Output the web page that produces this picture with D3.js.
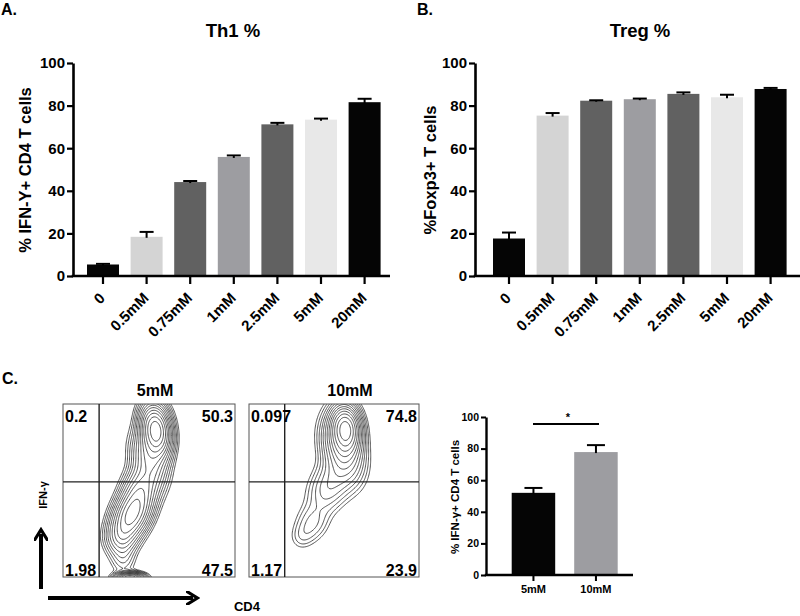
<!DOCTYPE html>
<html>
<head>
<meta charset="utf-8">
<script src="https://cdn.jsdelivr.net/npm/d3@7"></script>
<style>
  html, body { margin: 0; padding: 0; background: #fff; }
  svg { display: block; }
  text { font-family: "Liberation Sans", Arial, sans-serif; font-weight: bold; fill: #000; }
</style>
</head>
<body>
<svg id="chart" width="800" height="616"></svg>
<script>
// ---------------- DATA ----------------
const categories = ["0", "0.5mM", "0.75mM", "1mM", "2.5mM", "5mM", "20mM"];
const th1Values  = [5.4, 18.4, 44.1, 55.9, 71.2, 73.4, 81.6];
const th1Errors  = [0.3, 2.3, 0.5, 0.7, 0.7, 0.5, 1.6];
const tregValues = [17.6, 75.3, 82.3, 83.0, 85.5, 83.9, 87.8];
const tregErrors = [2.8, 1.2, 0.2, 0.3, 0.7, 1.2, 0.5];
const barColors  = ["#050505", "#d4d4d4", "#616161", "#9d9da1", "#616161", "#e8e8e8", "#050505"];
const yTicks     = [0, 20, 40, 60, 80, 100];

const flowConditions = ["5mM", "10mM"];
const flowQuadrants  = [["0.2", "50.3", "1.98", "47.5"], ["0.097", "74.8", "1.17", "23.9"]];
const gateX = [0.21, 0.21];
const gateY = [0.55, 0.55];
// density components of each contour plot: [cx, cy, sx, sy, angle, weight] (unit box)
const flowBlobs5mM = [
  [0.54, 0.85, 0.050, 0.090, 0.15, 1.00],
  [0.50, 0.68, 0.060, 0.100, 0.25, 0.30],
  [0.40, 0.36, 0.060, 0.100, -0.45, 0.62],
  [0.45, 0.52, 0.060, 0.080, -0.30, 0.25],
  [0.34, 0.22, 0.055, 0.060, 0.00, 0.15],
  [0.35, 0.10, 0.045, 0.060, 0.00, 0.08],
  [0.39, -0.005, 0.048, 0.018, 0.00, 0.90]
];
const flowBlobs10mM = [
  [0.57, 0.86, 0.050, 0.080, 0.10, 1.00],
  [0.55, 0.74, 0.070, 0.120, 0.25, 0.42],
  [0.47, 0.52, 0.070, 0.100, -0.45, 0.18],
  [0.37, 0.31, 0.060, 0.070, -0.45, 0.11],
  [0.31, 0.23, 0.045, 0.050, -0.45, 0.05]
];
const flowThresholds = [0.03, 0.045, 0.065, 0.09, 0.12, 0.16, 0.21, 0.27, 0.34, 0.43, 0.54, 0.68, 0.84];

const summaryCategories = ["5mM", "10mM"];
const summaryValues = [52.0, 77.8];
const summaryErrors = [3.1, 4.4];
const summaryColors = ["#050505", "#9d9da1"];

// ---------------- DRAW ----------------
const svg = d3.select("#chart");

function barPanel(opts) {
  const g = svg.append("g");
  const y = d3.scaleLinear().domain([0, 100]).range([opts.yBottom, opts.yTop]);
  const x = d3.scaleBand().domain(opts.cats).range([opts.bandStart, opts.bandEnd])
    .paddingInner(opts.pad).paddingOuter(opts.pad / 2);

  g.selectAll("rect.bar").data(opts.values).join("rect")
    .attr("class", "bar")
    .attr("x", (d, i) => x(opts.cats[i]))
    .attr("width", x.bandwidth())
    .attr("y", d => y(d))
    .attr("height", d => y(0) - y(d))
    .attr("fill", (d, i) => opts.colors[i]);

  const eb = g.selectAll("g.err").data(opts.values).join("g").attr("class", "err");
  eb.append("line")
    .attr("x1", (d, i) => x(opts.cats[i]) + x.bandwidth() / 2)
    .attr("x2", (d, i) => x(opts.cats[i]) + x.bandwidth() / 2)
    .attr("y1", d => y(d) + 1)
    .attr("y2", (d, i) => y(d + opts.errors[i]))
    .attr("stroke", "#000").attr("stroke-width", opts.errW);
  eb.append("line")
    .attr("x1", (d, i) => x(opts.cats[i]) + x.bandwidth() / 2 - opts.capW / 2)
    .attr("x2", (d, i) => x(opts.cats[i]) + x.bandwidth() / 2 + opts.capW / 2)
    .attr("y1", (d, i) => y(d + opts.errors[i]))
    .attr("y2", (d, i) => y(d + opts.errors[i]))
    .attr("stroke", "#000").attr("stroke-width", opts.errW);

  // y axis
  const ya = g.append("g").attr("transform", `translate(${opts.axisX},0)`)
    .call(d3.axisLeft(y).tickValues(yTicks).tickSize(opts.tickLen).tickPadding(2).tickSizeOuter(0));
  ya.select(".domain").attr("stroke-width", opts.axisW).attr("stroke", "#000");
  ya.selectAll(".tick line").attr("stroke-width", opts.axisW * 0.85).attr("stroke", "#000");
  ya.selectAll(".tick text").style("font-size", opts.tickFont + "px");
  ya.attr("font-family", null).attr("font-size", null);

  // x axis
  const xa = g.append("g").attr("transform", `translate(0,${opts.yBottom})`)
    .call(d3.axisBottom(x).tickSize(opts.xTickLen).tickSizeOuter(0));
  xa.select(".domain").remove();
  xa.attr("font-family", null).attr("font-size", null);
  xa.selectAll(".tick line").attr("stroke-width", opts.axisW * 0.85).attr("stroke", "#000");
  const xt = xa.selectAll(".tick text").style("font-size", opts.xFont + "px");
  if (opts.rotate) {
    xt.attr("text-anchor", "end").attr("x", 0).attr("y", 0).attr("dy", 0)
      .attr("transform", `translate(3,${opts.labelOffset}) rotate(-45)`);
  } else {
    xt.attr("y", opts.labelOffset).attr("dy", 0);
  }
  g.append("line").attr("x1", opts.axisX - opts.axisW / 2).attr("x2", opts.axisEnd)
    .attr("y1", opts.yBottom).attr("y2", opts.yBottom)
    .attr("stroke", "#000").attr("stroke-width", opts.axisW);

  // y label
  g.append("text")
    .attr("transform", `translate(${opts.labelX},${opts.labelY}) rotate(-90)`)
    .attr("text-anchor", "middle").attr("dominant-baseline", "central")
    .style("font-size", opts.labelFont + "px")
    .text(opts.yLabel);
  if (opts.title) {
    g.append("text").attr("x", opts.titleX).attr("y", opts.titleY)
      .attr("text-anchor", "middle").style("font-size", "18.5px").text(opts.title);
  }
  return { x, y };
}

const common = { cats: categories, colors: barColors, yTop: 63, yBottom: 276, pad: 0.266,
  errW: 2, capW: 14, tickLen: 6, xTickLen: 8, axisW: 2.6, tickFont: 15, xFont: 15,
  rotate: true, labelOffset: 23, labelFont: 16.5 };

barPanel(Object.assign({}, common, {
  values: th1Values, errors: th1Errors, bandStart: 81.2, bandEnd: 386.4,
  axisX: 73, axisEnd: 390, labelX: 25, labelY: 170,
  yLabel: "% IFN-Y+ CD4 T cells", title: "Th1 %", titleX: 233, titleY: 37 }));

barPanel(Object.assign({}, common, {
  values: tregValues, errors: tregErrors, bandStart: 487.2, bandEnd: 792.4,
  axisX: 475, axisEnd: 800, labelX: 430, labelY: 170,
  yLabel: "%Foxp3+ T cells", title: "Treg %", titleX: 640, titleY: 37 }));

// panel letters
svg.append("text").attr("x", 1).attr("y", 15).style("font-size", "16px").text("A.");
svg.append("text").attr("x", 417).attr("y", 15).style("font-size", "16px").text("B.");
svg.append("text").attr("x", 2).attr("y", 384).style("font-size", "16px").text("C.");

// ---------------- Flow contour plots ----------------
const flowBoxes = [[63, 235], [249, 419]];
const flowTop = 404, flowBottom = 577;
const blobSets = [flowBlobs5mM, flowBlobs10mM];

function density(blobs, x, y) {
  let s = 0;
  for (const [cx, cy, sx, sy, a, w] of blobs) {
    const dx = x - cx, dy = y - cy;
    const u = dx * Math.cos(a) + dy * Math.sin(a);
    const v = -dx * Math.sin(a) + dy * Math.cos(a);
    s += w * Math.exp(-(u * u / (2 * sx * sx) + v * v / (2 * sy * sy)));
  }
  return s;
}

const defs = svg.append("defs");
flowConditions.forEach((cond, k) => {
  const [L, R] = flowBoxes[k];
  const fx = d3.scaleLinear().domain([0, 1]).range([L, R]);
  const fy = d3.scaleLinear().domain([0, 1]).range([flowBottom, flowTop]);
  const g = svg.append("g");

  defs.append("clipPath").attr("id", "clip" + k)
    .append("rect").attr("x", L).attr("y", flowTop).attr("width", R - L).attr("height", flowBottom - flowTop);

  // density grid
  const n = 180, m = 200;
  const gx0 = -0.1, gx1 = 1.1, gy0 = -0.12, gy1 = 1.2;
  const vals = new Array(n * m);
  let mx = 0;
  for (let j = 0; j < m; j++) {
    const yy = gy1 - (j + 0.5) / m * (gy1 - gy0);
    for (let i = 0; i < n; i++) {
      const xx = gx0 + (i + 0.5) / n * (gx1 - gx0);
      const v = density(blobSets[k], xx, yy);
      vals[i + j * n] = v;
      if (v > mx) mx = v;
    }
  }
  const contours = d3.contours().size([n, m]).thresholds(flowThresholds.map(t => t * mx))(vals);
  const proj = d3.geoTransform({
    point: function (px, py) {
      this.stream.point(fx(gx0 + px / n * (gx1 - gx0)), fy(gy1 - py / m * (gy1 - gy0)));
    }
  });
  g.append("g").attr("clip-path", `url(#clip${k})`)
    .selectAll("path").data(contours).join("path")
    .attr("d", d3.geoPath(proj))
    .attr("fill", "none").attr("stroke", "#2a2a2a").attr("stroke-width", 0.8);

  // box
  g.append("rect").attr("x", L).attr("y", flowTop).attr("width", R - L).attr("height", flowBottom - flowTop)
    .attr("fill", "none").attr("stroke", "#555").attr("stroke-width", 1);
  // quadrant gates
  g.append("line").attr("x1", fx(gateX[k])).attr("x2", fx(gateX[k])).attr("y1", flowTop).attr("y2", flowBottom)
    .attr("stroke", "#222").attr("stroke-width", 1.4);
  g.append("line").attr("x1", L).attr("x2", R).attr("y1", fy(gateY[k])).attr("y2", fy(gateY[k]))
    .attr("stroke", "#222").attr("stroke-width", 1.4);

  // quadrant labels
  const q = flowQuadrants[k];
  const lab = (t, x, y, anchor) => g.append("text").attr("x", x).attr("y", y)
    .attr("text-anchor", anchor).style("font-size", "16px").text(t);
  lab(q[0], L + 2, 422, "start");
  lab(q[1], R - 2, 422, "end");
  lab(q[2], L + 2, 576, "start");
  lab(q[3], R - 2, 576, "end");

  g.append("text").attr("x", (L + R) / 2 + (k === 0 ? 6 : 16)).attr("y", 396)
    .attr("text-anchor", "middle").style("font-size", "16px").text(cond);
});

// axis arrows
svg.append("defs").append("marker").attr("id", "arrow").attr("viewBox", "0 0 10 10")
  .attr("refX", 5).attr("refY", 5).attr("markerWidth", 3.6).attr("markerHeight", 3.6)
  .attr("orient", "auto")
  .append("path").attr("d", "M0,0 L8,5 L0,10").attr("fill", "none").attr("stroke", "#000").attr("stroke-width", 2.2);
svg.append("line").attr("x1", 41).attr("x2", 41).attr("y1", 589).attr("y2", 534)
  .attr("stroke", "#000").attr("stroke-width", 4).attr("marker-end", "url(#arrow)");
svg.append("line").attr("x1", 48).attr("x2", 193).attr("y1", 598).attr("y2", 598)
  .attr("stroke", "#000").attr("stroke-width", 4).attr("marker-end", "url(#arrow)");
svg.append("text").attr("transform", "translate(43,495) rotate(-90)")
  .attr("text-anchor", "middle").attr("dominant-baseline", "central")
  .style("font-size", "11px").text("IFN-γ");
svg.append("text").attr("x", 247).attr("y", 611).attr("text-anchor", "middle")
  .style("font-size", "13px").text("CD4");

// ---------------- Summary bar chart ----------------
barPanel({
  cats: summaryCategories, colors: summaryColors, values: summaryValues, errors: summaryErrors,
  yTop: 417, yBottom: 575, pad: 0.304, bandStart: 502.2, bandEnd: 627.2,
  errW: 2, capW: 18, tickLen: 5, xTickLen: 6, axisW: 2.4, tickFont: 10.5, xFont: 11,
  rotate: false, labelOffset: 18, labelFont: 11.5,
  axisX: 486, axisEnd: 633, labelX: 455, labelY: 497,
  yLabel: "% IFN-γ+ CD4 T cells", title: null });

svg.append("line").attr("x1", 533).attr("x2", 599).attr("y1", 424).attr("y2", 424)
  .attr("stroke", "#000").attr("stroke-width", 2);
svg.append("text").attr("x", 568).attr("y", 421).attr("text-anchor", "middle")
  .style("font-size", "11px").text("*");
</script>
</body>
</html>
